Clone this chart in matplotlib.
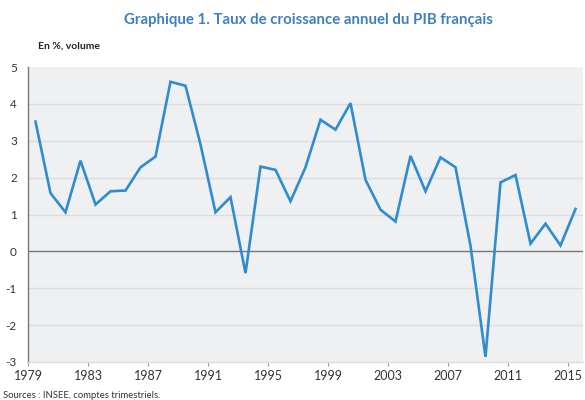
import matplotlib
matplotlib.use("Agg")
import matplotlib.pyplot as plt
import numpy as np

plt.rcParams['font.family'] = ['Lato', 'DejaVu Sans']

# taux de croissance annuel du PIB (en %, volume)
years = list(range(1979, 2016))
growth = [3.52, 1.58, 1.06, 2.46, 1.27, 1.63, 1.65, 2.28, 2.57, 4.60,
          4.49, 2.90, 1.06, 1.47, -0.59, 2.30, 2.21, 1.36, 2.28, 3.57,
          3.30, 4.02, 1.94, 1.13, 0.81, 2.59, 1.63, 2.55, 2.28, 0.15,
          -2.86, 1.87, 2.07, 0.21, 0.75, 0.16, 1.15]
xtick_years = list(range(1979, 2016, 4))
yticks = list(range(-3, 6))

title = "Graphique 1. Taux de croissance annuel du PIB français"
unit = "En %, volume"
source = "Sources : INSEE, comptes trimestriels."

fig = plt.figure(figsize=(5.85, 4.0), dpi=100)
ax = fig.add_axes([28/585, 0.095, 555/585, 0.7375])
ax.set_facecolor('#eef0f2')

# points au centre de chaque annee
x = np.array(years) + 0.5
ax.plot(x, growth, color='#2f8ccf', lw=1.9, solid_joinstyle='miter', zorder=3)

ax.set_xlim(1979, 2016)
ax.set_ylim(-3, 5)
ax.set_yticks(yticks)
ax.set_yticklabels([str(v) for v in yticks], fontsize=8.5, color='#333333')
ax.set_xticks(xtick_years)
ax.set_xticklabels([str(v) for v in xtick_years], fontsize=9, color='#333333')
ax.tick_params(axis='y', length=0, pad=8)
ax.tick_params(axis='x', length=3, color='#999999', pad=3)

for v in yticks:
    if v not in (0, -3, 5):
        ax.axhline(v, color='#dadcde', lw=1.0, zorder=1)
ax.axhline(0, color='#777777', lw=1.0, zorder=2)

for s in ['top', 'right']:
    ax.spines[s].set_visible(False)
ax.spines['left'].set_color('#777777')
ax.spines['left'].set_linewidth(1.0)
ax.spines['bottom'].set_color('#dadcde')
ax.spines['bottom'].set_linewidth(1.0)

fig.text(0.528, 0.95, title, ha='center', va='center', fontsize=10.8,
         fontweight='bold', color='#3d7fbf')
fig.text(0.065, 0.885, unit, ha='left', va='center', fontsize=7.5,
         fontweight='bold', color='#222222')
fig.text(0.005, 0.012, source, ha='left', va='center', fontsize=6.8,
         color='#333333')

fig.savefig('out.png', dpi=100)
